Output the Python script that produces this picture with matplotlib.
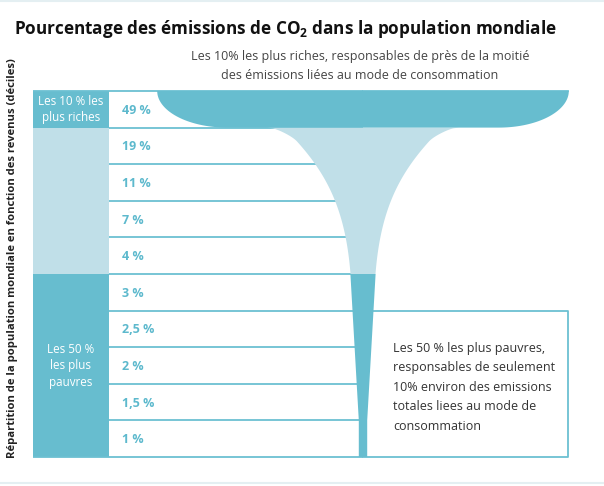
import numpy as np
import matplotlib
matplotlib.use("Agg")
import matplotlib.pyplot as plt
from matplotlib.patches import Polygon, Rectangle

plt.rcParams["font.family"] = ["Open Sans", "DejaVu Sans"]
plt.rcParams["mathtext.fontset"] = "custom"
plt.rcParams["mathtext.rm"] = "Open Sans"
plt.rcParams["mathtext.bf"] = "Open Sans:bold"

# data: share of CO2 emissions per income decile (richest first)
deciles = ["D10", "D9", "D8", "D7", "D6", "D5", "D4", "D3", "D2", "D1"]
shares = [49, 19, 11, 7, 4, 3, 2.5, 2, 1.5, 1]
share_labels = ["49 %", "19 %", "11 %", "7 %", "4 %", "3 %", "2,5 %", "2 %", "1,5 %", "1 %"]
groups = [
    ("Les 10 % les\nplus riches", 0, 1, "dark"),
    ("", 1, 5, "light"),
    ("Les 50 %\nles plus\npauvres", 5, 10, "dark"),
]

title = "Pourcentage des émissions de CO$\\mathbf{_2}$ dans la population mondiale"
note_top = ("Les 10% les plus riches, responsables de près de la moitié\n"
            "des émissions liées au mode de consommation")
note_box = ("Les 50 % les plus pauvres,\nresponsables de seulement\n"
            "10% environ des emissions\ntotales liees au mode de\nconsommation")
ylabel = "Répartition de la population mondiale en fonction des revenus (déciles)"

DARK = "#67bdcf"
LIGHT = "#c0dfe8"
LINE = "#6cc0d2"
TXT_TEAL = "#5db9cd"

# layout (pixels)
W, H = 604, 486
top, row_h = 91, 36.6
col_x0, col_x1 = 33, 109
cx = 363          # funnel axis
k = 4.2           # half-width in px per percentage point
right_x = 568

fig = plt.figure(figsize=(W / 100, H / 100), dpi=100)
ax = fig.add_axes([0, 0, 1, 1])
ax.set_xlim(0, W)
ax.set_ylim(H, 0)
ax.axis("off")

n = len(shares)
yb = top + row_h * np.arange(n + 1)
bottom = yb[-1]

# faint page borders
ax.plot([0, W], [1, 1], color="#e4eff2", lw=1.5)
ax.plot([0, W], [483, 483], color="#e4eff2", lw=1.5)

# left group column
for label, i0, i1, tone in groups:
    ax.add_patch(Rectangle((col_x0, yb[i0]), col_x1 - col_x0, yb[i1] - yb[i0],
                           color=DARK if tone == "dark" else LIGHT, lw=0))
    if label:
        ax.text((col_x0 + col_x1) / 2, (yb[i0] + yb[i1]) / 2, label, color="white",
                fontsize=8.4, ha="center", va="center", linespacing=1.35)

# row separator lines (funnel drawn on top)
for i, y in enumerate(yb):
    x0 = col_x0 if i in (0, n) else col_x1
    ax.plot([x0, cx], [y, y], color=LINE, lw=1.3, zorder=1, solid_capstyle="butt")
# box on the right of the thin funnel
box_top = yb[6]
ax.plot([cx, right_x, right_x, cx], [box_top, box_top, bottom, bottom],
        color=LINE, lw=1.3, zorder=1)
ax.plot([cx, right_x], [yb[0], yb[0]], color=LINE, lw=1.3, zorder=1)

# top band: 49 %, a bowl with rounded lower corners
hw0 = k * shares[0]
rx = hw0 * 0.34
th = np.linspace(0, np.pi / 2, 40)
left = np.column_stack([cx - hw0 + rx - rx * np.cos(th), yb[0] + (yb[1] - yb[0]) * np.sin(th)])
right = np.column_stack([cx + hw0 - rx + rx * np.cos(th[::-1]), yb[0] + (yb[1] - yb[0]) * np.sin(th[::-1])])
ax.add_patch(Polygon(np.vstack([left, right]), closed=True, color=DARK, lw=0, zorder=3))

# light funnel: rows 2-5, smooth narrowing through the row-top widths
ys = np.linspace(yb[1], yb[5], 200)
coef = np.polyfit(yb[1:6] - yb[1], np.log([k * s for s in shares[1:6]]), 3)
hw = np.exp(np.polyval(coef, ys - yb[1]))
# rounded shoulder at the top
sh = 14
t = np.clip((ys - yb[1]) / sh, 0, 1)
hw = hw + (k * shares[1] + 16 - hw) * (1 - np.sqrt(1 - (1 - t) ** 2))
poly = np.vstack([np.column_stack([cx - hw, ys]), np.column_stack([cx + hw[::-1], ys[::-1]])])
ax.add_patch(Polygon(poly, closed=True, color=LIGHT, lw=0, zorder=2))

# dark thin funnel: rows 6-10
ys2 = yb[5:]
hw2 = np.array([k * s for s in shares[5:]] + [k * shares[-1]])
poly2 = np.vstack([np.column_stack([cx - hw2, ys2]), np.column_stack([cx + hw2[::-1], ys2[::-1]])])
ax.add_patch(Polygon(poly2, closed=True, color=DARK, lw=0, zorder=3))

# percentage labels
for i, lab in enumerate(share_labels):
    ax.text(col_x1 + 13, (yb[i] + yb[i + 1]) / 2 + 1, lab, color=TXT_TEAL,
            fontsize=9, fontweight="bold", ha="left", va="center")

# texts
ax.text(14, 29, title, fontsize=12.3, fontweight="bold", color="#111111",
        ha="left", va="center")
ax.text(360, 66, note_top, fontsize=9, color="#444444", ha="center", va="center",
        linespacing=1.6)
ax.text(393, 387, note_box, fontsize=9, color="#333333", ha="left", va="center",
        linespacing=1.65)
ax.text(13, 258, ylabel, fontsize=8.1, fontweight="bold", color="#222222",
        rotation=90, ha="center", va="center")

fig.savefig("out.png", dpi=100, facecolor="white")
